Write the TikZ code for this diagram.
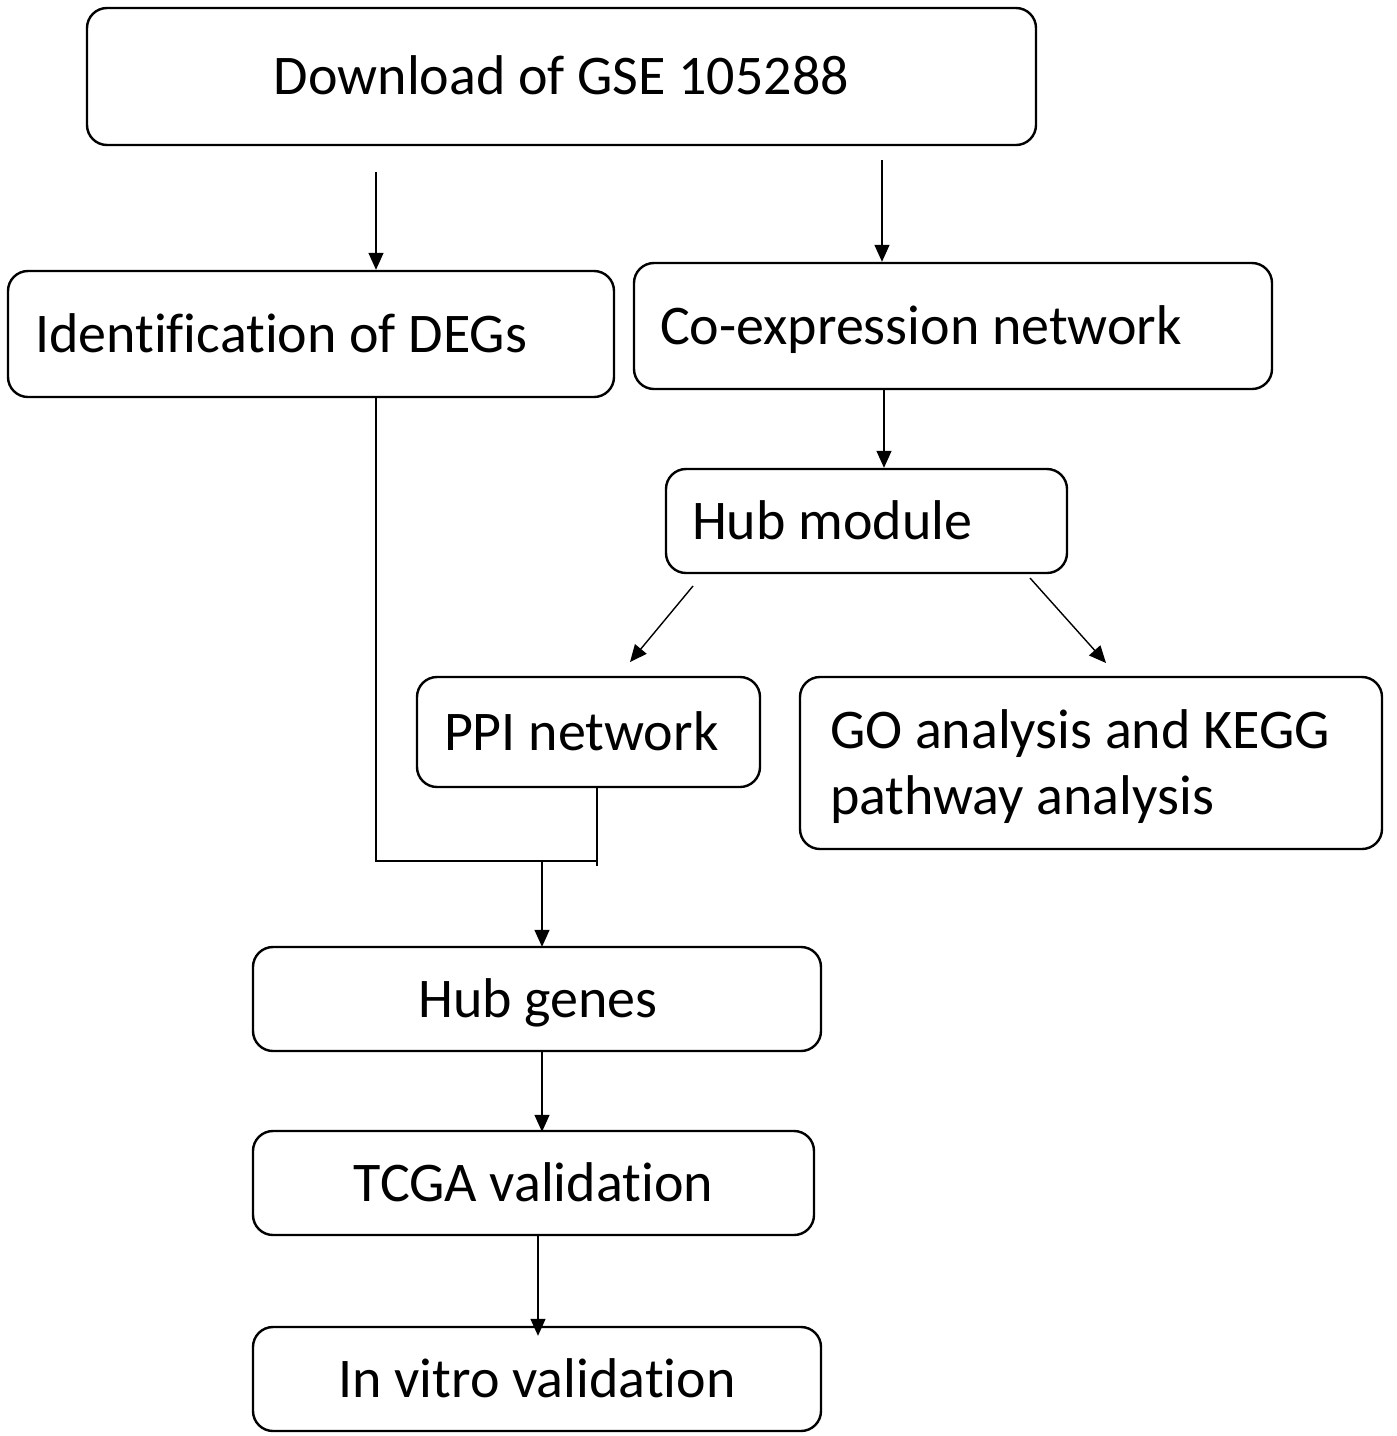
\documentclass[tikz,border=0pt]{standalone}
\usepackage{fontspec}
\setmainfont{Carlito}[Ligatures={NoCommon}]
\usetikzlibrary{arrows.meta}
\begin{document}
\begin{tikzpicture}[x=1pt,y=-1pt,
  box/.style={draw,line width=2.4pt,rounded corners=20pt,inner ysep=0pt,
    font=\fontsize{56}{66}\selectfont,text height=48pt,text depth=12pt},
  lbox/.style={box,align=flush left},
  cbox/.style={box,align=center,inner xsep=0pt},
  txt/.style={inner sep=0pt,align=flush left,font=\fontsize{56}{66}\selectfont},
  arr/.style={line width=1.4pt,-{Triangle[length=17pt,width=15pt]}},
  conn/.style={line width=2.2pt}]
\useasboundingbox (0,0) rectangle (1397,1436);
\node[cbox,minimum width=949pt,minimum height=137pt] (dl) at (561.5,76.5) {Download of GSE 105288};
\node[lbox,inner xsep=27pt,text width=552pt,minimum height=126pt] (deg) at (311,334) {Identification of DEGs};
\node[lbox,inner xsep=26pt,text width=586pt,minimum height=126pt] (co) at (953,326) {Co-expression network};
\node[lbox,inner xsep=26pt,text width=349pt,minimum height=104pt] (hub) at (866.5,521) {Hub module};
\node[lbox,inner xsep=27pt,text width=289pt,minimum height=110pt] (ppi) at (588.5,732) {PPI network};
\node[draw,line width=2.4pt,rounded corners=20pt,minimum width=582pt,minimum height=172pt] (go) at (1091,763) {};
\node[txt,anchor=west] (got) at ([xshift=31pt,yshift=-4pt]go.west) {GO analysis and KEGG\\pathway analysis};
\node[cbox,minimum width=568pt,minimum height=104pt] (hg) at (537,999) {\hspace*{2pt}Hub genes};
\node[cbox,minimum width=561pt,minimum height=104pt] (tc) at (533.5,1183) {TCGA validation};
\node[cbox,minimum width=568pt,minimum height=104pt] (iv) at (537,1379) {In vitro validation};
\coordinate (a1) at (376,172);
\coordinate (a2) at (882,160);
\coordinate (d1s) at (693,586);
\coordinate (d1e) at (630,662);
\coordinate (d2s) at (1030,578);
\coordinate (d2e) at (1106,663);
\coordinate (jl) at (376,861);
\coordinate (jr) at (597,861);
\coordinate (jm) at (542,861);
\coordinate (pe) at (597,866);
\draw[arr] (a1) -- (a1 |- deg.north);
\draw[arr] (a2) -- (a2 |- co.north);
\draw[arr] (co.south -| 884,0) -- (hub.north -| 884,0);
\draw[arr] (d1s) -- (d1e);
\draw[arr] (d2s) -- (d2e);
\draw[conn] (deg.south -| jl) -- (jl) -- (jr);
\draw[conn] (ppi.south -| pe) -- (pe);
\draw[arr] (jm) -- ([yshift=-1pt]jm |- hg.north);
\draw[arr] (hg.south -| 542,0) -- ([yshift=-2pt]tc.north -| 542,0);
\draw[arr] ([yshift=2pt]tc.south -| 538,0) -- ([yshift=-10pt]iv.north -| 538,0);
\end{tikzpicture}
\end{document}
